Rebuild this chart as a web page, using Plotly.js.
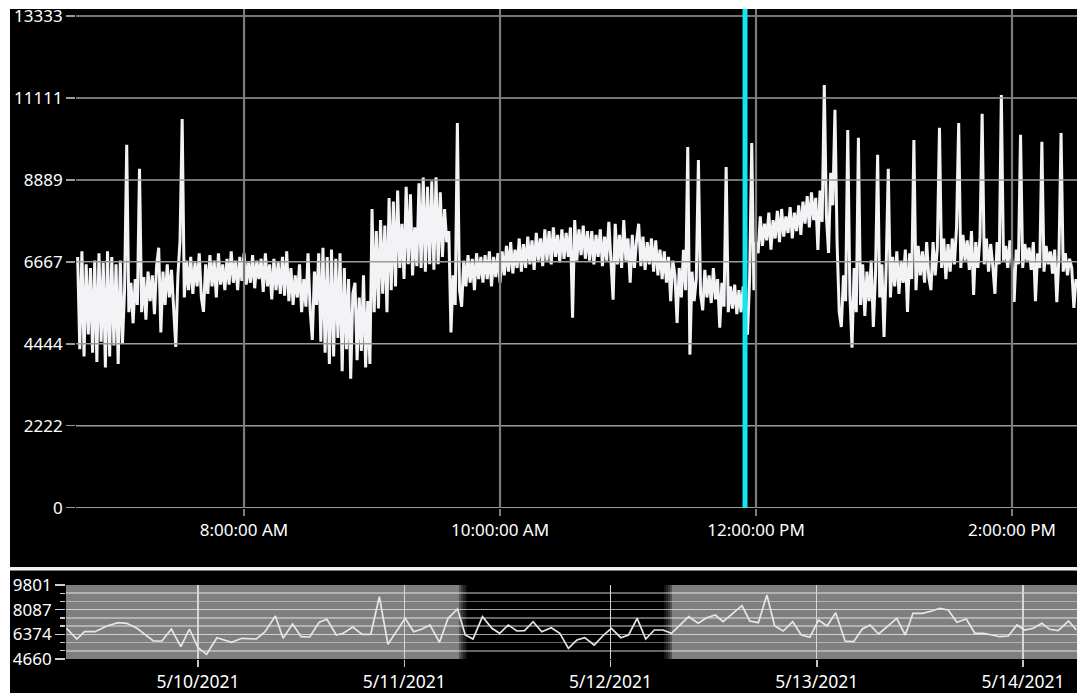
<!DOCTYPE html>
<html><head><meta charset="utf-8">
<script src="https://cdn.plot.ly/plotly-3.0.1.min.js"></script>
<style>
html,body{margin:0;padding:0;background:#fff;width:1077px;height:693px;overflow:hidden}
#chart{position:absolute;left:10px;top:9px;width:1067px;height:684px;background:#000}
</style></head><body><div id="chart"></div>
<script>
// ---------- main chart data (one reading per minute from 6:42 AM, 2021-05-11) ----------
const mainStart = Date.UTC(2021, 4, 11, 6, 42, 0);
const mainStepMinutes = 1;
const mainValues = [
 6800,4300,6950,4100,6600,4700,6500,4200,6700,3950,
 6900,4500,6650,3800,6950,4100,6800,4400,6600,3900,
 6700,4450,5900,9840,5300,6100,5000,6200,5500,9190,
 5300,6250,5100,6400,5600,6300,5250,6550,7050,4750,
 6400,5500,6600,5700,6450,5400,4360,6300,7250,10540,
 5700,6700,5900,6800,5800,6650,6000,6900,5700,5310,
 6600,5800,6850,6000,6700,5700,6900,6050,6600,5900,
 6750,6050,6950,6100,6700,5900,6800,6150,6900,6050,
 6650,6100,6850,5950,6700,6200,6750,5850,6900,6000,
 6600,5650,6750,5900,6650,5800,6800,5750,6950,5600,
 6500,5500,6300,5700,6600,5300,6200,5450,6900,5350,
 4550,6400,5500,6900,4500,7050,4200,6800,3900,7000,
 4100,6750,4600,6900,3700,6500,4300,6200,3500,5800,
 6100,4000,5700,4250,6300,3800,5600,3900,8100,5300,
 7500,5400,7800,5800,7650,5300,8400,5900,8300,6000,
 8600,6500,7700,6200,8700,6600,8500,6300,7600,6550,
 8800,6500,8950,6400,8700,6600,8850,6450,8960,6600,
 8550,6800,8100,7200,7500,4750,6300,5500,10430,5900,
 5450,6700,6000,6850,6100,6750,5900,6900,6200,6800,
 6100,6850,6200,6950,6000,6800,6250,6900,6100,6950,
 6300,7100,6400,7200,6350,7000,6500,7300,6400,7150,
 6500,7350,6600,7250,6450,7450,6700,7300,6550,7550,
 6700,7500,6600,7600,6800,7400,6650,7550,6750,7450,
 6800,7600,5150,7800,6700,7550,6850,7650,6750,7500,
 6700,7500,6600,7400,6800,7550,6550,7350,6700,7750,
 6800,5640,7700,6600,7400,6500,7800,6700,7300,6100,
 7400,6500,7250,7700,6550,7350,6450,7200,6600,7300,
 6400,7250,6300,7000,6200,6950,6100,6800,5600,6700,
 6300,5010,6500,5700,6990,5900,9780,4150,6400,5600,
 6200,9430,5800,5350,6450,5700,6300,5550,6500,5650,
 6200,4880,6100,5450,9240,5300,6000,5400,6050,5250,
 5900,5300,6000,5400,4690,6200,9890,5900,7200,6900,
 7900,7100,7700,7250,8000,7000,7800,7300,8050,7200,
 8100,7350,7900,7450,8150,7300,8000,7500,8200,7400,
 8300,7700,8450,7600,8550,7800,8400,6990,8600,7750,
 11460,7900,6910,9080,8200,10790,7200,5300,4900,6300,
 5600,10240,5800,4340,6500,5300,10030,5500,6600,5200,
 6400,5600,6700,4900,6300,9570,5700,6600,4630,6500,
 9190,5700,6800,6000,6950,5800,6700,6100,7000,5310,
 6900,6200,9970,5900,7100,6300,6950,6100,7200,6250,
 5900,7200,6300,7050,10300,6500,7300,6200,7150,6400,
 7300,6600,7600,10430,6500,7400,6700,7250,6450,7500,
 5770,7200,6500,7350,10680,6600,7300,6400,7150,6550,
 5800,7200,6600,11190,6700,7100,6500,7250,6650,5580,
 7000,6600,10110,6500,7150,6700,7050,6450,7200,5600,
 6900,6500,9920,6400,7100,6600,6950,6350,7000,5570,
 6800,10160,6400,6900,6300,6750,6500,5420,6200
];
const mainRange = ['2021-05-11 06:41:15', '2021-05-11 14:30:28'];
const mainYRange = [-8, 13523];
const mainYTicks = [0, 2222, 4444, 6667, 8889, 11111, 13333];
const mainYTickText = ['0', '2222', '4444', '6667', '8889', '11111', '13333'];
const mainXTicks = ['2021-05-11 08:00:00', '2021-05-11 10:00:00', '2021-05-11 12:00:00', '2021-05-11 14:00:00'];
const mainXTickText = ['8:00:00 AM', '10:00:00 AM', '12:00:00 PM', '2:00:00 PM'];
const cursorTime = '2021-05-11 11:54:51';

// ---------- navigator (overview) data: hours after 5/10/2021 00:00 and values ----------
const navBase = Date.UTC(2021, 4, 10, 0, 0, 0);
const navHours = [-15.3,-14.1,-13.2,-12.0,-10.6,-9.3,-8.3,-7.1,-5.2,-4.2,-3.1,-2.0,-1.0,
 0.0,1.0,2.2,3.9,5.1,6.8,7.8,9.0,9.9,11.0,12.0,13.0,14.1,15.0,16.1,16.9,18.0,19.1,20.1,21.1,22.1,
 24.1,25.1,26.0,27.0,28.1,29.1,30.2,31.1,32.0,33.1,34.2,35.1,36.1,37.1,38.0,39.0,40.0,41.1,42.1,43.1,44.1,45.0,46.1,47.2,48.1,49.2,50.1,51.1,52.1,53.1,54.1,55.1,
 57.1,58.2,59.2,60.2,61.1,
 63.3,64.2,65.2,66.2,67.1,68.1,69.2,70.2,71.2,72.2,73.2,74.2,75.3,76.3,77.3,78.2,79.2,80.2,81.3,82.3,83.2,84.3,85.4,86.3,87.3,88.3,89.4,90.4,91.4,92.4,93.3,94.3,95.3,96.2,97.2,98.2,99.1,100.1,101.3,102.2];
const navValues = [6793,6049,6557,6557,6953,7182,7140,6793,5910,5910,6744,5514,6744,
 5445,4986,6140,5820,6098,6049,6557,7647,6098,7091,6209,6188,7210,7418,6327,6445,6883,6376,6376,8988,5681,
 7487,6557,6723,7022,5820,7487,8134,6327,6049,7599,6793,6445,7022,6605,6626,7251,6557,6834,6445,5403,5980,6140,5633,6327,6793,6140,6327,7487,6049,6675,6675,6445,
 7599,7140,7529,7716,7251,
 8363,7300,7182,9106,6953,6605,7251,6327,6168,7369,6953,7877,5910,5862,6744,7022,6397,6904,7487,6327,7835,7835,7995,8182,8064,7210,7439,6445,6445,6327,6209,6258,7022,6675,6793,7140,6723,6626,7300,6675];
const navRange = ['2021-05-09 08:38:24', '2021-05-14 06:17:02'];
const navYRange = [4660, 9801];
const navYTicks = [4660, 6374, 8087, 9801];
const navYTickText = ['4660', '6374', '8087', '9801'];
const navXTicks = ['2021-05-10', '2021-05-11', '2021-05-12', '2021-05-13', '2021-05-14'];
const navXTickText = ['5/10/2021', '5/11/2021', '5/12/2021', '5/13/2021', '5/14/2021'];
const selectionStart = '2021-05-11 06:22:00';
const selectionEnd = '2021-05-12 07:09:00';

// ---------- build ----------
function fmt(ms) { return new Date(ms).toISOString().slice(0, 19).replace('T', ' '); }
const mainTimes = mainValues.map((v, i) => fmt(mainStart + i * mainStepMinutes * 60000));
const navTimes = navHours.map(h => fmt(navBase + h * 3600000));

const traces = [
  { x: mainTimes, y: mainValues, type: 'scatter', mode: 'lines', xaxis: 'x', yaxis: 'y',
    line: { color: '#f3f3f6', width: 3 }, hoverinfo: 'skip' },
  { x: navTimes, y: navValues, type: 'scatter', mode: 'lines', xaxis: 'x2', yaxis: 'y2',
    line: { color: '#e6e6e6', width: 1.7 }, hoverinfo: 'skip' }
];

const shapes = [];
// navigator backdrop and selection window
shapes.push({ type: 'rect', xref: 'x2 domain', x0: 0, x1: 1, yref: 'y2 domain', y0: 0, y1: 1,
  fillcolor: '#7f7f7f', line: { width: 0 }, layer: 'below' });
shapes.push({ type: 'rect', xref: 'x2', x0: selectionStart, x1: selectionEnd, yref: 'y2 domain', y0: 0, y1: 1,
  fillcolor: '#000000', line: { width: 0 }, layer: 'below' });
const fade = ['#555555', '#3a3a3a', '#242424', '#141414'];
fade.forEach((c, k) => {
  shapes.push({ type: 'rect', xref: 'x2', xsizemode: 'pixel', xanchor: selectionStart, x0: k * 2, x1: k * 2 + 2,
    yref: 'y2 domain', y0: 0, y1: 1, fillcolor: c, line: { width: 0 }, layer: 'below' });
  shapes.push({ type: 'rect', xref: 'x2', xsizemode: 'pixel', xanchor: selectionEnd, x0: -k * 2 - 2, x1: -k * 2,
    yref: 'y2 domain', y0: 0, y1: 1, fillcolor: c, line: { width: 0 }, layer: 'below' });
});
// main chart grid, drawn over the data
mainYTicks.forEach(v => shapes.push({ type: 'line', xref: 'x domain', x0: 0, x1: 1, yref: 'y', y0: v, y1: v,
  line: { color: '#9c9c9c', width: 1.5 }, layer: 'above' }));
mainXTicks.forEach(t => shapes.push({ type: 'line', xref: 'x', x0: t, x1: t, yref: 'y domain', y0: 0, y1: 1,
  line: { color: '#7c7c7c', width: 2.2 }, layer: 'above' }));
// cursor
shapes.push({ type: 'line', xref: 'x', x0: cursorTime, x1: cursorTime, yref: 'y domain', y0: 0, y1: 1,
  line: { color: '#12e6f0', width: 5 }, layer: 'above' });
// separator between chart and navigator
shapes.push({ type: 'line', xref: 'paper', x0: 0, x1: 1, yref: 'paper', y0: 0.1817, y1: 0.1817,
  line: { color: '#f2f2f2', width: 3.5 }, layer: 'above' });

const fontFam = 'Noto Sans, sans-serif';
const layout = {
  width: 1067, height: 684,
  margin: { l: 0, r: 0, t: 0, b: 0 },
  paper_bgcolor: '#000000', plot_bgcolor: '#000000',
  showlegend: false, hovermode: false,
  font: { family: fontFam, color: '#ffffff', size: 17 },
  xaxis: { type: 'date', domain: [0.0619, 1], anchor: 'y', range: mainRange,
    tickmode: 'array', tickvals: mainXTicks, ticktext: mainXTickText,
    showgrid: false, zeroline: false, showline: false,
    ticks: 'outside', ticklen: 7, tickwidth: 2, tickcolor: '#7c7c7c',
    tickfont: { family: fontFam, size: 17, color: '#ffffff' } },
  yaxis: { domain: [0.2705, 1], anchor: 'x', range: mainYRange,
    tickmode: 'array', tickvals: mainYTicks, ticktext: mainYTickText,
    showgrid: false, zeroline: false, showline: false, ticklabeloverflow: 'allow',
    ticks: 'outside', ticklen: 9, tickwidth: 1.5, tickcolor: '#9c9c9c',
    tickfont: { family: fontFam, size: 17, color: '#ffffff' } },
  xaxis2: { type: 'date', domain: [0.0525, 1], anchor: 'y2', range: navRange,
    tickmode: 'array', tickvals: navXTicks, ticktext: navXTickText,
    showgrid: true, gridcolor: '#d6d6d6', gridwidth: 1.2, zeroline: false, showline: false,
    ticks: 'outside', ticklen: 7, tickwidth: 1.5, tickcolor: '#c4c4c4',
    tickfont: { family: fontFam, size: 17.5, color: '#ffffff' } },
  yaxis2: { domain: [0.0497, 0.1579], anchor: 'x2', range: navYRange,
    tickmode: 'array', tickvals: navYTicks, ticktext: navYTickText,
    showgrid: true, gridcolor: 'rgba(255,255,255,0.4)', gridwidth: 1.6, zeroline: false, showline: false,
    ticks: 'outside', ticklen: 10, tickwidth: 1.5, tickcolor: '#cfcfcf',
    minor: { tickmode: 'linear', tick0: navYRange[0], dtick: (navYRange[1] - navYRange[0]) / 9,
      ticks: 'outside', ticklen: 5, tickwidth: 1.3, tickcolor: '#cfcfcf',
      showgrid: true, gridcolor: 'rgba(255,255,255,0.4)', gridwidth: 1.6 },
    tickfont: { family: fontFam, size: 17, color: '#ffffff' } },
  shapes: shapes
};

Plotly.newPlot('chart', traces, layout, { displayModeBar: false, staticPlot: true });
</script></body></html>
